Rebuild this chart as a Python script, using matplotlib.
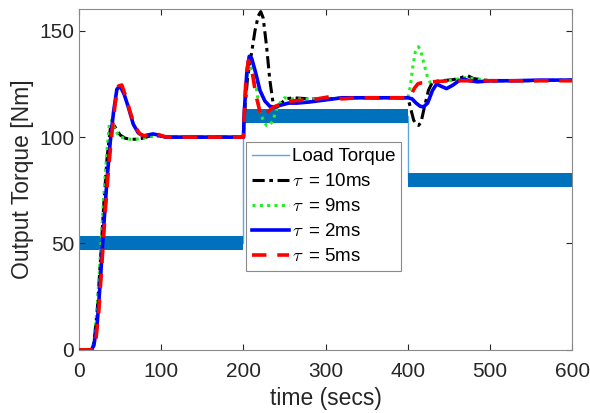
import numpy as np
import matplotlib.pyplot as plt

plt.rcParams['font.family'] = ['Liberation Sans', 'DejaVu Sans']
plt.rcParams['mathtext.fontset'] = 'cm'

# load torque steps
t_load = [0, 200, 400, 600]
v_load = [50, 110, 80, 80]
band_half = 3.3

# tau = 2 ms
t_2 = [0, 15, 18, 22, 26, 30, 34, 38, 42, 46, 50, 55, 60, 66, 72, 78, 84, 90, 96, 105, 120, 200,
       201, 204, 207, 210, 215, 220, 226, 232, 238, 245, 255, 265, 280, 300, 320, 340, 360, 380, 400,
       405, 410, 415, 419, 424, 430, 435, 440, 447, 455, 462, 468, 475, 485, 500, 530, 560, 600]
v_2 = [0, 0, 2, 12, 33, 58, 80, 98, 112, 122.5, 124, 120, 114, 106, 102, 100.5, 101, 101.5, 101, 100, 100, 100,
       112, 130, 138, 137, 130, 122, 117, 114.5, 114, 115, 116, 116, 116.5, 117.5, 118.5, 118.5, 118.5, 118.5, 118.5,
       118, 116, 114.5, 114.2, 116, 122, 125, 124, 122.8, 124.5, 126.5, 127.3, 126.5, 126, 126.5, 126.5, 126.8, 126.8]

# tau = 5 ms
t_5 = [0, 16, 20, 24, 28, 32, 36, 40, 44, 48, 52, 57, 62, 68, 74, 80, 86, 92, 98, 106, 120, 200,
       201, 203, 206, 210, 215, 220, 224, 230, 236, 242, 250, 260, 275, 290, 305, 320, 340, 360, 400,
       404, 408, 412, 416, 420, 430, 450, 470, 500, 550, 600]
v_5 = [0, 0, 3, 18, 42, 66, 86, 102, 116, 124, 124.5, 119, 112, 105, 101.5, 100.5, 101.5, 102, 101, 100, 100, 100,
       110, 128, 136, 132, 120, 112, 109.5, 112, 114, 115, 116, 117, 117.5, 118, 119, 118, 118.5, 118.5, 118.5,
       120, 123, 125, 125.5, 125.5, 126, 126.5, 126.5, 126.5, 126.5, 126.5]

# tau = 10 ms
t_10 = [0, 14, 18, 22, 26, 30, 34, 38, 41, 45, 50, 56, 62, 70, 78, 86, 95, 105, 120, 200,
        201, 205, 210, 214, 218, 221, 224, 228, 232, 236, 240, 246, 252, 260, 280, 300, 330, 360, 400,
        403, 407, 410, 413, 416, 420, 425, 430, 440, 455, 465, 472, 480, 500, 550, 600]
v_10 = [0, 0, 3, 18, 42, 68, 90, 104, 106.5, 104, 101, 99.5, 99, 99, 99.5, 100.5, 100.5, 100, 100, 100,
        110, 128, 140, 150, 157, 159, 156, 143, 127, 116, 114, 116, 118, 118.5, 118, 118, 118.5, 118.5, 118.5,
        114, 108, 106, 105.5, 107, 114, 122, 126, 126.5, 127, 128, 129, 127.5, 126.5, 126.5, 126.8]

# tau = 9 ms
t_9 = [0, 14, 18, 22, 26, 30, 34, 37, 40, 44, 50, 56, 62, 70, 78, 86, 95, 105, 120, 200,
       201, 204, 208, 212, 216, 220, 224, 228, 232, 236, 242, 250, 260, 280, 300, 330, 360, 400,
       403, 406, 409, 413, 416, 420, 424, 428, 435, 450, 470, 500, 550, 600]
v_9 = [0, 0, 3, 20, 45, 72, 94, 107, 108, 103, 100, 99.5, 99, 99, 99.5, 100.5, 100.5, 100, 100, 100,
       112, 128, 134, 130, 122, 112, 108, 105.5, 105.5, 108, 115, 118.5, 118, 118, 118, 118.5, 118.5, 118.5,
       124, 133, 140, 142.5, 140, 134, 128, 125, 126, 126.5, 128, 126.5, 126.5, 126.8]

fig = plt.figure(figsize=(5.9, 4.13), dpi=100)
ax = fig.add_axes([0.134, 0.153, 0.836, 0.824])

tl = np.array(t_load)
vl = np.array(v_load)
ax.step(tl, vl, where='post', color='#5BA8DC', lw=1.0, zorder=1, label='Load Torque')
ax.fill_between(tl, vl - band_half, vl + band_half, step='post', color='#0072BD', lw=0, zorder=1.5)

ax.plot(t_10, v_10, color='black', lw=2.2, linestyle=(0, (4, 1.5, 1.2, 1.5)), label=r'$\tau\,$ = 10ms', zorder=3)
ax.plot(t_9, v_9, color='#22ee22', lw=2.2, linestyle=(0, (1, 1.4)), label=r'$\tau\,$ = 9ms', zorder=3)
ax.plot(t_2, v_2, color='#0000ff', lw=2.6, label=r'$\tau\,$ = 2ms', zorder=3)
ax.plot(t_5, v_5, color='#ff0000', lw=2.6, linestyle=(0, (4, 3)), label=r'$\tau\,$ = 5ms', zorder=4)

ax.set_xlim(0, 600)
ax.set_ylim(0, 160)
ax.set_xticks(np.arange(0, 601, 100))
ax.set_yticks([0, 50, 100, 150])
ax.tick_params(direction='in', length=4, labelsize=15, colors='#262626', top=True, right=True)
ax.tick_params(axis='x', pad=9)
for s in ax.spines.values():
    s.set_color('#8a8a8a')
ax.set_xlabel('time (secs)', fontsize=16.5, color='#262626', labelpad=4)
ax.set_ylabel('Output Torque [Nm]', fontsize=16.5, color='#262626', labelpad=4)

leg = ax.legend(loc='lower left', bbox_to_anchor=(0.339, 0.232), fontsize=13.5, handlelength=2.0,
                handletextpad=0.15, labelspacing=0.42, borderpad=0.3, borderaxespad=0,
                fancybox=False, edgecolor='#8a8a8a', framealpha=1)
leg.get_frame().set_linewidth(0.8)
leg.set_zorder(10)

fig.savefig('out.png', dpi=100)
